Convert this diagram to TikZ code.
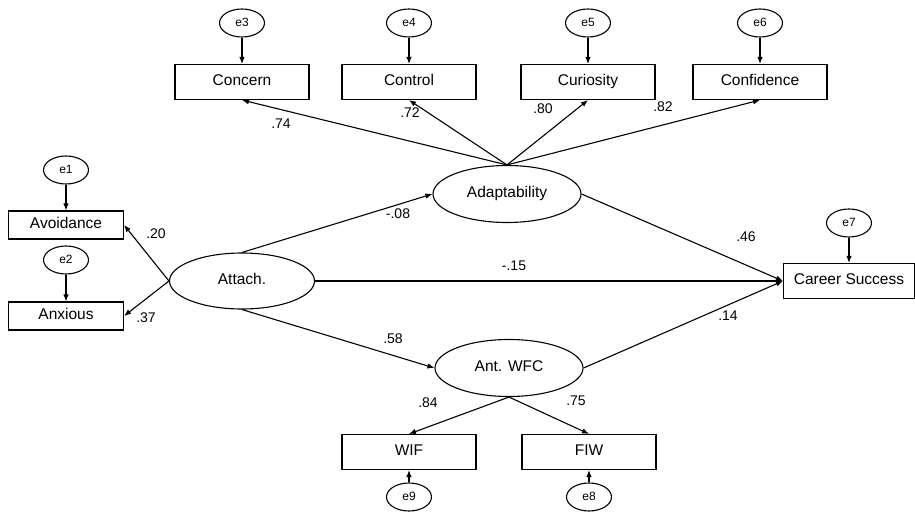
\documentclass[tikz,border=0pt]{standalone}
\usepackage{fontspec}
\setmainfont{Liberation Sans}
\usetikzlibrary{shapes.geometric,arrows.meta}
\begin{document}
\begin{tikzpicture}[x=1pt,y=-1pt,
 box/.style={draw,line width=1.1pt,minimum width=134pt,minimum height=35pt,inner sep=0pt,text height=0.72em,text depth=0.05em,font=\fontsize{15.5}{17}\selectfont},
 sbox/.style={box,minimum width=115pt,minimum height=28pt},
 lat/.style={draw,ellipse,line width=1.1pt,minimum width=148pt,minimum height=57pt,inner sep=0pt,text height=0.72em,text depth=0.05em,font=\fontsize{15.5}{17}\selectfont},
 err/.style={draw,ellipse,line width=1.1pt,minimum width=45pt,minimum height=28pt,inner sep=0pt,text height=0.72em,text depth=0.05em,font=\fontsize{12}{13}\selectfont},
 arr/.style={-{Latex[length=7pt,width=5.5pt]},line width=1.1pt},
 lbl/.style={font=\fontsize{14}{16}\selectfont,inner sep=0pt}]
\useasboundingbox (0,0) rectangle (915,526);
% indicators of adaptability
\node[err] (e3) at (242,23) {e3};
\node[err] (e4) at (409,23) {e4};
\node[err] (e5) at (588,23) {e5};
\node[err] (e6) at (760,23) {e6};
\node[box] (concern) at (242,82) {Concern};
\node[box] (control) at (409,82) {Control};
\node[box] (curiosity) at (588,82) {Curiosity};
\node[box] (confidence) at (760,82) {Confidence};
% latent variables
\node[lat] (adapt) at (507,194) {Adaptability};
\node[lat,minimum width=145pt,minimum height=56pt] (attach) at (242,281) {Attach.};
\node[lat] (wfc) at (509,368) {Ant. WFC};
% outcome
\node[err] (e7) at (849,223) {e7};
\node[box,minimum width=131pt] (career) at (849,281) {Career Success};
% attachment indicators
\node[err] (e1) at (66,170) {e1};
\node[sbox] (avoid) at (66,225) {Avoidance};
\node[err] (e2) at (66,260) {e2};
\node[sbox] (anx) at (66,316) {Anxious};
% WFC indicators
\node[box] (wif) at (409,452) {WIF};
\node[box] (fiw) at (589,452) {FIW};
\node[err] (e9) at (409,497) {e9};
\node[err] (e8) at (589,497) {e8};
% error arrows
\draw[arr] (e3) -- (concern);
\draw[arr] (e4) -- (control);
\draw[arr] (e5) -- (curiosity);
\draw[arr] (e6) -- (confidence);
\draw[arr] (e7) -- (career);
\draw[arr] (e1) -- (avoid);
\draw[arr] (e2) -- (anx);
\draw[arr] (e9) -- (wif);
\draw[arr] (e8) -- (fiw);
% loadings
\draw[arr] (adapt.north) -- (concern.south);
\draw[arr] (adapt.north) -- (control.south);
\draw[arr] (adapt.north) -- (curiosity.south);
\draw[arr] (adapt.north) -- (confidence.south);
\draw[arr] (attach.west) -- (avoid.east);
\draw[arr] (attach.west) -- (anx.east);
\draw[arr] (wfc.south) -- (wif.north);
\draw[arr] (wfc.south) -- (fiw.north);
% structural paths
\draw[arr] (attach.north) -- (adapt.west);
\draw[arr] (attach.east) -- (career.west);
\draw[arr] (attach.south) -- (wfc.west);
\draw[arr] (adapt.east) -- (career.west);
\draw[arr] (wfc.east) -- (career.west);
% coefficients
\node[lbl] (l74) at (281,124) {.74};
\node[lbl] (l72) at (410,113) {.72};
\node[lbl] (l80) at (543,109) {.80};
\node[lbl] (l82) at (663,107) {.82};
\node[lbl] (l20) at (156,234) {.20};
\node[lbl] (l37) at (146,318) {.37};
\node[lbl] (l08) at (398,214) {-.08};
\node[lbl] (l15) at (514,266) {-.15};
\node[lbl] (l46) at (746,237) {.46};
\node[lbl] (l14) at (728,316) {.14};
\node[lbl] (l58) at (393,339) {.58};
\node[lbl] (l84) at (428,403) {.84};
\node[lbl] (l75) at (576,401) {.75};
\end{tikzpicture}
\end{document}
